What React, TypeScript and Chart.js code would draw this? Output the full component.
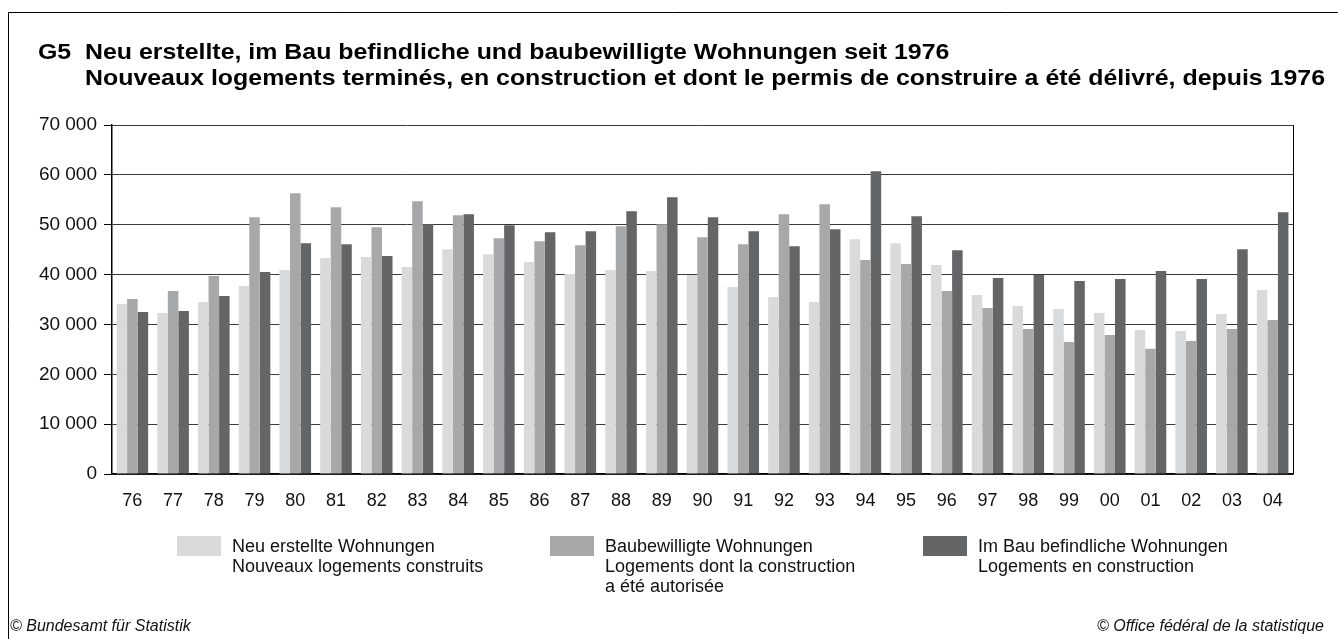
import React, { useEffect, useRef } from 'react';
import { Chart, registerables } from 'chart.js';

Chart.register(...registerables);

const years = ['76', '77', '78', '79', '80', '81', '82', '83', '84', '85', '86', '87', '88', '89', '90', '91', '92', '93', '94', '95', '96', '97', '98', '99', '00', '01', '02', '03', '04'];

const neuErstellt = [34100, 32300, 34500, 37700, 40900, 43300, 43500, 41500, 45100, 44100, 42500, 40100, 40900, 40700, 39900, 37500, 35500, 34500, 47100, 46300, 41900, 35900, 33700, 33100, 32300, 28900, 28700, 32100, 36900];

const baubewilligt = [35100, 36700, 39700, 51500, 56300, 53500, 49500, 54700, 51900, 47300, 46700, 45900, 49700, 50100, 47500, 46100, 52100, 54100, 42900, 42100, 36700, 33300, 29100, 26500, 27900, 25100, 26700, 29100, 30900];

const imBau = [32500, 32700, 35700, 40500, 46300, 46100, 43700, 50100, 52100, 49900, 48500, 48700, 52700, 55500, 51500, 48700, 45700, 49100, 60700, 51700, 44900, 39300, 39900, 38700, 39100, 40700, 39100, 45100, 52500];

const yMin = 0;
const yMax = 70000;
const yStep = 10000;

const seriesColors = ['#d9dadc', '#a7a8aa', '#646567'];

const legendLines = [
  ['Neu erstellte Wohnungen', 'Nouveaux logements construits'],
  ['Baubewilligte Wohnungen', 'Logements dont la construction', 'a été autorisée'],
  ['Im Bau befindliche Wohnungen', 'Logements en construction'],
];

const titleCode = 'G5';
const titleLines = [
  'Neu erstellte, im Bau befindliche und baubewilligte Wohnungen seit 1976',
  'Nouveaux logements terminés, en construction et dont le permis de construire a été délivré, depuis 1976',
];
const footerLeft = '© Bundesamt für Statistik';
const footerRight = '© Office fédéral de la statistique';

const FONT = '"Liberation Sans", Arial, Helvetica, sans-serif';

const fmt = (v: number) => String(v).replace(/\B(?=(\d{3})+(?!\d))/g, ' ');

const decorPlugin = {
  id: 'decor',
  afterDraw(chart: any) {
    const ctx = chart.ctx as CanvasRenderingContext2D;
    const area = chart.chartArea;
    ctx.save();
    // outer frame
    ctx.strokeStyle = '#000';
    ctx.lineWidth = 1;
    ctx.beginPath();
    ctx.moveTo(8.5, 640);
    ctx.lineTo(8.5, 12.5);
    ctx.lineTo(1340, 12.5);
    ctx.stroke();
    // right plot border
    ctx.beginPath();
    ctx.moveTo(Math.round(area.right) + 0.5, area.top);
    ctx.lineTo(Math.round(area.right) + 0.5, area.bottom);
    ctx.stroke();

    // title (slightly expanded typeface)
    ctx.fillStyle = '#000';
    ctx.textBaseline = 'middle';
    ctx.textAlign = 'left';
    ctx.font = `bold 22px ${FONT}`;
    const targetWidth = 1240;
    const sx = targetWidth / ctx.measureText(titleLines[1]).width;
    ctx.save();
    ctx.scale(sx, 1);
    ctx.fillText(titleCode, 38 / sx, 53);
    titleLines.forEach((t, i) => ctx.fillText(t, 85 / sx, 53 + i * 26));
    ctx.restore();

    // legend
    const legendX = [177, 550, 923];
    ctx.font = `18px ${FONT}`;
    ctx.textBaseline = 'middle';
    ctx.textAlign = 'left';
    chart.data.datasets.forEach((ds: any, i: number) => {
      ctx.fillStyle = ds.backgroundColor;
      ctx.fillRect(legendX[i], 536, 44, 20);
      ctx.fillStyle = '#111';
      legendLines[i].forEach((line, j) => ctx.fillText(line, legendX[i] + 55, 547 + j * 20));
    });

    // footer
    ctx.font = `italic 16px ${FONT}`;
    ctx.fillStyle = '#111';
    ctx.fillText(footerLeft, 10, 627);
    ctx.textAlign = 'right';
    ctx.fillText(footerRight, 1324, 627);
    ctx.restore();
  },
};

export default function App() {
  const ref = useRef<HTMLCanvasElement | null>(null);
  useEffect(() => {
    document.body.style.margin = '0';
    const canvas = ref.current;
    if (!canvas) return;
    const chart = new Chart(canvas, {
      type: 'bar',
      data: {
        labels: years,
        datasets: [
          { label: legendLines[0][0], data: neuErstellt, backgroundColor: seriesColors[0] },
          { label: legendLines[1][0], data: baubewilligt, backgroundColor: seriesColors[1] },
          { label: legendLines[2][0], data: imBau, backgroundColor: seriesColors[2] },
        ],
      },
      options: {
        responsive: false,
        animation: false,
        events: [],
        layout: { padding: { top: 125, right: 45, left: 0, bottom: 0 } },
        datasets: { bar: { categoryPercentage: 0.776, barPercentage: 1.0, borderWidth: 0 } },
        plugins: {
          legend: { display: false },
          title: { display: false },
          tooltip: { enabled: false },
        },
        scales: {
          x: {
            grid: { display: false, drawTicks: false },
            border: { display: true, color: '#000', width: 1.5 },
            ticks: { font: { family: FONT, size: 18 }, color: '#111', padding: 16, maxRotation: 0, autoSkip: false },
            afterFit: (s: any) => { s.height = 165; },
          },
          y: {
            min: yMin,
            max: yMax,
            grid: { color: '#3a3a3a', lineWidth: 1, tickColor: '#000', tickLength: 8, drawTicks: true },
            border: { display: true, color: '#000', width: 1.5 },
            ticks: { stepSize: yStep, font: { family: FONT, size: 19 }, color: '#111', padding: 7, callback: (v: any) => fmt(Number(v)) },
            afterFit: (s: any) => { s.width = 112; },
          },
        },
      },
      plugins: [decorPlugin],
    } as any);
    return () => chart.destroy();
  }, []);
  return <canvas ref={ref} width={1338} height={639} style={{ display: 'block', width: 1338, height: 639 }} />;
}
